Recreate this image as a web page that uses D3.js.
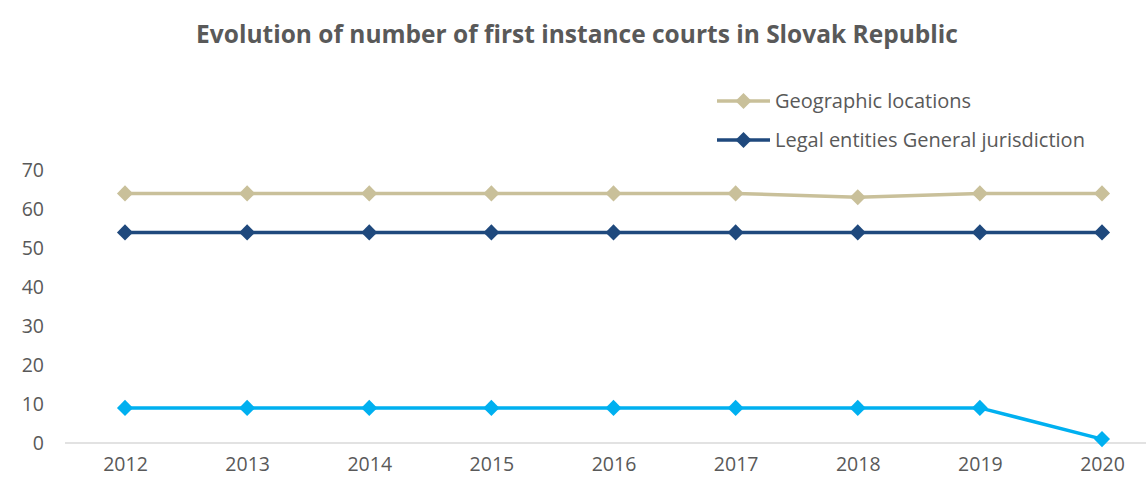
<!DOCTYPE html>
<html>
<head>
<meta charset="utf-8">
<script src="https://cdn.jsdelivr.net/npm/d3@7"></script>
<style>
  body { margin: 0; background: #fff; }
  svg { display: block; font-family: "Open Sans", sans-serif; }
</style>
</head>
<body>
<div id="chart"></div>
<script>
// Data
const years = ['2012', '2013', '2014', '2015', '2016', '2017', '2018', '2019', '2020'];
const geographicLocations = [64, 64, 64, 64, 64, 64, 63, 64, 64];
const legalEntitiesGeneral = [54, 54, 54, 54, 54, 54, 54, 54, 54];
const legalEntitiesSpecial = [9, 9, 9, 9, 9, 9, 9, 9, 1];
const yTicks = [0, 10, 20, 30, 40, 50, 60, 70];

const series = [
    { name: 'Geographic locations', values: geographicLocations, color: '#c9c09a', legend: true },
    { name: 'Legal entities General jurisdiction', values: legalEntitiesGeneral, color: '#1f497d', legend: true },
    { name: 'Legal entities Specialised', values: legalEntitiesSpecial, color: '#00b0f0', legend: false }
];

const width = 1146, height = 485;
const svg = d3.select('#chart').append('svg')
    .attr('width', width)
    .attr('height', height);

const x = d3.scalePoint()
    .domain(years)
    .range([125, 1102]);

const y = d3.scaleLinear()
    .domain([0, 70])
    .range([443, 170]);

// Title
svg.append('text')
    .attr('x', 577)
    .attr('y', 43)
    .attr('text-anchor', 'middle')
    .attr('fill', '#595959')
    .attr('font-size', '24.5px')
    .attr('font-weight', 'bold')
    .text('Evolution of number of first instance courts in Slovak Republic');

// Y axis labels (no axis line)
const yAxis = svg.append('g')
    .attr('transform', 'translate(44,0)')
    .call(d3.axisLeft(y).tickValues(yTicks).tickSize(0).tickPadding(0));
yAxis.select('.domain').remove();
yAxis.selectAll('text')
    .attr('fill', '#595959')
    .attr('font-size', '19.5px')
    .attr('font-family', '"Open Sans", sans-serif');

// X axis baseline
svg.append('line')
    .attr('x1', 65).attr('x2', width)
    .attr('y1', y(0)).attr('y2', y(0))
    .attr('stroke', '#d9d9d9')
    .attr('stroke-width', 1.5);

const xAxis = svg.append('g')
    .attr('transform', `translate(0,${y(0)})`)
    .call(d3.axisBottom(x).tickSize(0).tickPadding(14));
xAxis.select('.domain').remove();
xAxis.selectAll('text')
    .attr('fill', '#595959')
    .attr('font-size', '19.5px')
    .attr('font-family', '"Open Sans", sans-serif');

const line = d3.line()
    .x((d, i) => x(years[i]))
    .y(d => y(d));

const diamond = d3.symbol().type(d3.symbolDiamond2).size(165);

series.forEach(s => {
    svg.append('path')
        .datum(s.values)
        .attr('d', line)
        .attr('fill', 'none')
        .attr('stroke', s.color)
        .attr('stroke-width', 3.5);

    svg.append('g').selectAll('path')
        .data(s.values)
        .enter()
        .append('path')
        .attr('d', diamond)
        .attr('transform', (d, i) => `translate(${x(years[i])},${y(d)})`)
        .attr('fill', s.color);
});

// Legend
const legendItems = series.filter(s => s.legend);
const legend = svg.append('g').selectAll('g')
    .data(legendItems)
    .enter()
    .append('g')
    .attr('transform', (d, i) => `translate(717,${101 + i * 39})`);

legend.append('line')
    .attr('x1', 0).attr('x2', 53)
    .attr('stroke', d => d.color)
    .attr('stroke-width', 3.5);

legend.append('path')
    .attr('d', diamond)
    .attr('transform', 'translate(26.5,0)')
    .attr('fill', d => d.color);

legend.append('text')
    .attr('x', 58)
    .attr('dy', '0.35em')
    .attr('fill', '#595959')
    .attr('font-size', '20px')
    .text(d => d.name);
</script>
</body>
</html>
